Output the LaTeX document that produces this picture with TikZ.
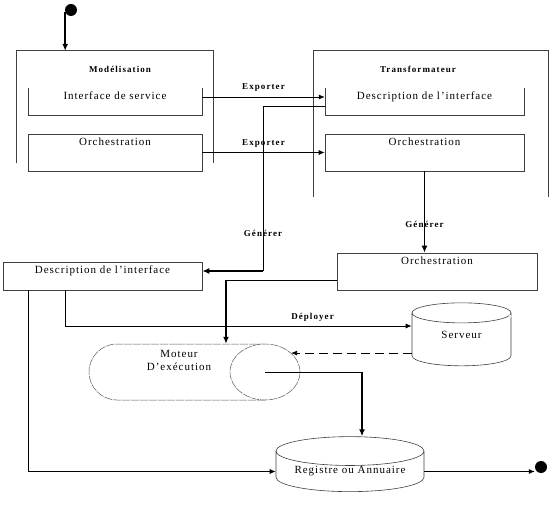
\documentclass[tikz,border=0pt]{standalone}
\usepackage{fontspec}
\setmainfont{Liberation Serif}
\newfontfamily\boxfont[LetterSpace=9]{Liberation Serif}
\newfontfamily\tagfont[LetterSpace=12]{Liberation Serif}
\usetikzlibrary{arrows.meta,positioning,shapes.geometric,shapes.misc}

\begin{document}
\begin{tikzpicture}[x=1pt,y=-1pt,
  rim/.style={draw=black!75,line width=0.6pt},
  outer/.style={inner sep=0pt},
  box/.style={rim,inner sep=0pt},
  boxtext/.style={font=\boxfont\fontsize{11}{13}\selectfont},
  boxlabel/.style={label={[boxtext,anchor=north,inner sep=3.5pt]north:#1}},
  title/.style={font=\tagfont\bfseries\fontsize{9}{11}\selectfont},
  tag/.style={font=\tagfont\bfseries\fontsize{9}{11}\selectfont},
  store/.style={rim,cylinder,shape border rotate=90,inner sep=0pt,boxtext},
  engine/.style={rounded rectangle,rounded rectangle right arc=none,draw=black!65,line width=0.5pt,dash pattern=on 8pt off 1pt,inner sep=0pt},
  blob/.style={circle,fill=black,inner sep=0pt,minimum size=12pt},
  wire/.style={line width=0.8pt},
  flow/.style={-{Latex[length=6pt,width=5pt]},line width=0.8pt},
  bigflow/.style={-{Latex[length=7pt,width=6pt]},line width=1.8pt}]
\useasboundingbox (0,0) rectangle (559,521);

% two open frames
\node[outer,minimum width=197pt,minimum height=112pt] (modelBox) at (114.5,107) {};
\draw[rim] (modelBox.south west) -- (modelBox.north west) -- (modelBox.north east) -- (modelBox.south east);
\node[title] (modelTitle) at (120,69) {Modélisation};
\node[outer,minimum width=235pt,minimum height=146pt] (transBox) at (430.5,124) {};
\draw[rim] (transBox.south west) -- (transBox.north west) -- (transBox.north east) -- (transBox.south east);
\node[title] (transTitle) at (418,69) {Transformateur};

% boxes
\node[outer,minimum width=174pt,minimum height=27pt,boxlabel=Interface de service] (srvIface) at (115,101.5) {};
\draw[rim] (srvIface.north west) -- (srvIface.south west) -- (srvIface.south east) -- (srvIface.north east);
\node[box,minimum width=174pt,minimum height=37pt,boxlabel=Orchestration] (srvOrch) at (115,152.5) {};
\node[outer,minimum width=199pt,minimum height=27pt,boxlabel=Description de l’interface] (trDesc) at (424.5,101.5) {};
\draw[rim] (trDesc.north west) -- (trDesc.south west) -- (trDesc.south east) -- (trDesc.north east);
\node[box,minimum width=199pt,minimum height=37pt,boxlabel=Orchestration] (trOrch) at (424.5,152.5) {};
\node[box,minimum width=199pt,minimum height=28pt,boxlabel=Description de l’interface] (outDesc) at (102.5,276) {};
\node[box,minimum width=200pt,minimum height=37pt,boxlabel=Orchestration] (outOrch) at (437,271.5) {};

% engine, server, registry
\node[engine,minimum width=176pt,minimum height=56pt,label={[boxtext,anchor=north,align=center,inner sep=2pt,xshift=2pt,yshift=-4pt]north:{Moteur\\D’exécution}}] (engine) at (177,372) {};
\node[ellipse,draw=black!65,line width=0.5pt,dash pattern=on 8pt off 1pt,fill=white,minimum width=70pt,minimum height=56pt,inner sep=0pt] (engEnd) at (265,372) {};
\node[store,minimum width=99pt,minimum height=63pt,aspect=0.5] (serveur) at (461.5,339.5) {\raisebox{5pt}[\height][\depth]{Serveur}};
\draw[white,line width=1.2pt,dash pattern=on 3pt off 15pt] ([yshift=22.5pt]serveur.center) ellipse [x radius=49.5pt,y radius=9pt];
\node[store,minimum width=148pt,minimum height=55pt,aspect=0.26] (registre) at (350,471.5) {Registre ou Annuaire};

\node[blob] (start) at (71,10) {};
\node[blob] (finish) at (541,467) {};

% connectors
\draw[bigflow] (start.200) -- (start.200 |- modelBox.north);
\draw[flow] ([yshift=4.5pt]srvIface.east) -- ([yshift=4.5pt]trDesc.west) node[tag,midway,above=2pt] {Exporter};
\draw[flow] (srvOrch.east) -- (trOrch.west) node[tag,midway,above=1pt] {Exporter};
\coordinate (genBend) at (263,271);
\draw[wire] ([yshift=-4.5pt]trDesc.west) -| (genBend);
\draw[bigflow] (genBend) -- (genBend -| outDesc.east);
\node[tag] (genLeft) at (263,233) {Générer};
\draw[bigflow] (trOrch.south) -- (trOrch.south |- outOrch.north) node[tag,pos=0.65] {Générer};
\coordinate (runBend) at (226,280);
\draw[wire] ([yshift=-8.5pt]outOrch.west) -- (runBend);
\draw[bigflow] (runBend) -- (runBend |- engine.north);
\draw[flow] ([xshift=-37.5pt]outDesc.south) |- ([yshift=13.5pt]serveur.west) node[tag,pos=0.857,above=1pt] {Déployer};
\draw[flow] ([xshift=-74.5pt]outDesc.south) |- (registre.west);
\draw[flow,dash pattern=on 9pt off 5pt] (engEnd.36 -| serveur.west) -- (engEnd.36);
\coordinate (regBend) at (362,372);
\draw[wire] (engEnd.center) -- (regBend);
\draw[bigflow] (regBend) -- (regBend |- registre.north);
\draw[flow] (registre.east) -- (registre.east -| finish.west);
\end{tikzpicture}
\end{document}
